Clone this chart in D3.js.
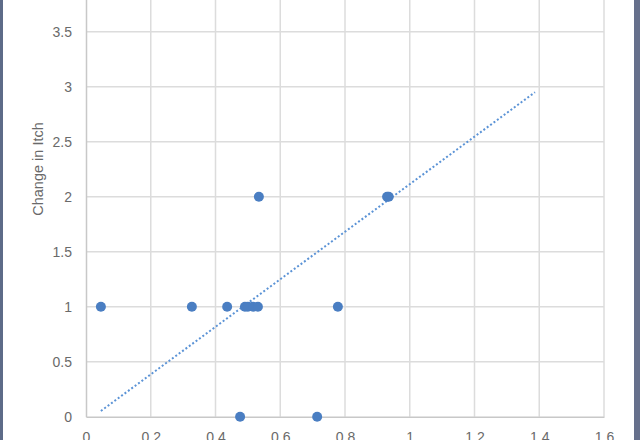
<!DOCTYPE html>
<html><head><meta charset="utf-8">
<script src="https://cdn.jsdelivr.net/npm/d3@7"></script>
<style>html,body{margin:0;padding:0;background:#fff;overflow:hidden}</style>
</head><body>
<svg id="c" width="640" height="440"></svg>
<script>
const xValues = [0.046, 0.327, 0.436, 0.491, 0.500, 0.516, 0.531, 0.534, 0.930, 0.935, 0.778, 0.476, 0.714];
const yValues = [1, 1, 1, 1, 1, 1, 1, 2, 2, 2, 1, 0, 0];
const trendX = [0.046, 1.387];
const trendY = [0.052, 2.95];
const xTicks = [0, 0.2, 0.4, 0.6, 0.8, 1, 1.2, 1.4, 1.6];
const yTicks = [0, 0.5, 1, 1.5, 2, 2.5, 3, 3.5];
const yMax = 4;
const yTitle = "Change in Itch";

const svg = d3.select("#c");
const x = d3.scaleLinear().domain([0, 1.6]).range([86, 604]);
const y = d3.scaleLinear().domain([0, yMax]).range([416.7, -23.3]);

// gridlines
svg.append("g").selectAll("line").data(xTicks.slice(1)).join("line")
  .attr("x1", d => x(d)).attr("x2", d => x(d)).attr("y1", y(yMax)).attr("y2", y(0))
  .attr("stroke", "#dcdcdc").attr("stroke-width", 1.5);
svg.append("g").selectAll("line").data(yTicks.slice(1).concat([yMax])).join("line")
  .attr("x1", x(0)).attr("x2", x(1.6)).attr("y1", d => y(d)).attr("y2", d => y(d))
  .attr("stroke", "#dcdcdc").attr("stroke-width", 1.5);

const font = "Liberation Sans, Arial, sans-serif";
// axes
const yAxis = d3.axisLeft(y).tickValues(yTicks).tickSize(0).tickPadding(14).tickFormat(d3.format("~g"));
const gy = svg.append("g").attr("transform", `translate(${x(0)},0)`).call(yAxis);
gy.select(".domain").attr("stroke", "#c8c8c8").attr("stroke-width", 1.5);
gy.selectAll("text").attr("fill", "#6a6a6a").style("font-family", font).style("font-size", "14px");

const xAxis = d3.axisBottom(x).tickValues(xTicks).tickSize(0).tickPadding(15).tickFormat(d3.format("~g"));
const gx = svg.append("g").attr("transform", `translate(0,${y(0)})`).call(xAxis);
gx.select(".domain").attr("stroke", "#c8c8c8").attr("stroke-width", 1.5);
gx.selectAll("text").attr("fill", "#6a6a6a").style("font-family", font).style("font-size", "14px");

// y title
svg.append("text").attr("transform", `translate(43,169) rotate(-90)`)
  .attr("text-anchor", "middle").attr("fill", "#6a6a6a")
  .style("font-family", font).style("font-size", "14.5px")
  .text(yTitle);

// trendline
svg.append("line")
  .attr("x1", x(trendX[0])).attr("y1", y(trendY[0]))
  .attr("x2", x(trendX[1])).attr("y2", y(trendY[1]))
  .attr("stroke", "#5b93d6").attr("stroke-width", 2).attr("stroke-dasharray", "2,2.2");

// points
const pts = xValues.map((v, i) => ({x: v, y: yValues[i]}));
svg.append("g").selectAll("circle").data(pts).join("circle")
  .attr("cx", d => x(d.x)).attr("cy", d => y(d.y)).attr("r", 5)
  .attr("fill", "#4a7ec2");

// frame edges
svg.append("rect").attr("x", 0).attr("y", 0).attr("width", 3).attr("height", 440).attr("fill", "#5d6b88");
svg.append("rect").attr("x", 634).attr("y", 0).attr("width", 6).attr("height", 440).attr("fill", "#66708c");
</script>
</body></html>
